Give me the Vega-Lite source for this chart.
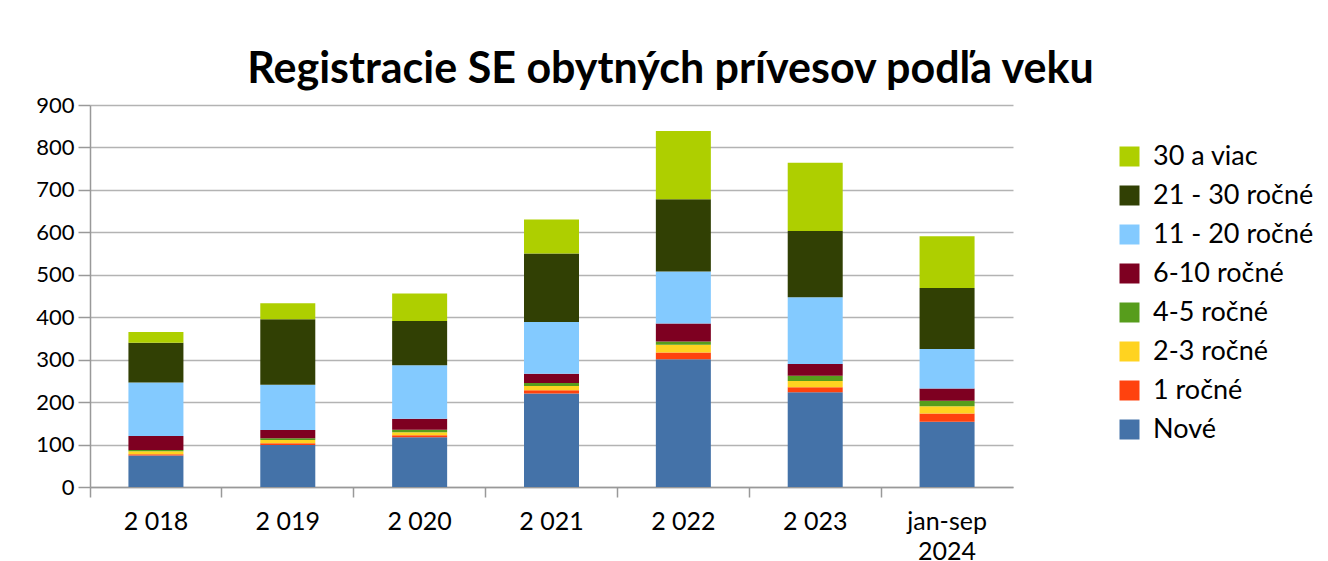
{
  "$schema": "https://vega.github.io/schema/vega-lite/v6.json",
  "autosize": {"type": "none"},
  "padding": {"left": 90, "top": 105, "right": 315, "bottom": 74},
  "width": 923,
  "height": 382,
  "background": "white",
  "title": {
    "text": "Registracie SE obytných prívesov podľa veku",
    "font": "Lato",
    "fontSize": 43,
    "fontWeight": "bold",
    "color": "#000000",
    "anchor": "middle",
    "frame": "group",
    "dx": 119,
    "offset": 2
  },
  "data": {
    "values": [
      {"rok": "2 018", "kat": "Nové", "o": 1, "v": 74},
      {"rok": "2 018", "kat": "1 ročné", "o": 2, "v": 3},
      {"rok": "2 018", "kat": "2-3 ročné", "o": 3, "v": 7},
      {"rok": "2 018", "kat": "4-5 ročné", "o": 4, "v": 3},
      {"rok": "2 018", "kat": "6-10 ročné", "o": 5, "v": 33},
      {"rok": "2 018", "kat": "11 - 20 ročné", "o": 6, "v": 126},
      {"rok": "2 018", "kat": "21 - 30 ročné", "o": 7, "v": 94},
      {"rok": "2 018", "kat": "30 a viac", "o": 8, "v": 25},

      {"rok": "2 019", "kat": "Nové", "o": 1, "v": 99},
      {"rok": "2 019", "kat": "1 ročné", "o": 2, "v": 4},
      {"rok": "2 019", "kat": "2-3 ročné", "o": 3, "v": 8},
      {"rok": "2 019", "kat": "4-5 ročné", "o": 4, "v": 4},
      {"rok": "2 019", "kat": "6-10 ročné", "o": 5, "v": 19},
      {"rok": "2 019", "kat": "11 - 20 ročné", "o": 6, "v": 107},
      {"rok": "2 019", "kat": "21 - 30 ročné", "o": 7, "v": 154},
      {"rok": "2 019", "kat": "30 a viac", "o": 8, "v": 38},

      {"rok": "2 020", "kat": "Nové", "o": 1, "v": 117},
      {"rok": "2 020", "kat": "1 ročné", "o": 2, "v": 5},
      {"rok": "2 020", "kat": "2-3 ročné", "o": 3, "v": 7},
      {"rok": "2 020", "kat": "4-5 ročné", "o": 4, "v": 6},
      {"rok": "2 020", "kat": "6-10 ročné", "o": 5, "v": 26},
      {"rok": "2 020", "kat": "11 - 20 ročné", "o": 6, "v": 126},
      {"rok": "2 020", "kat": "21 - 30 ročné", "o": 7, "v": 104},
      {"rok": "2 020", "kat": "30 a viac", "o": 8, "v": 65},

      {"rok": "2 021", "kat": "Nové", "o": 1, "v": 220},
      {"rok": "2 021", "kat": "1 ročné", "o": 2, "v": 8},
      {"rok": "2 021", "kat": "2-3 ročné", "o": 3, "v": 10},
      {"rok": "2 021", "kat": "4-5 ročné", "o": 4, "v": 7},
      {"rok": "2 021", "kat": "6-10 ročné", "o": 5, "v": 22},
      {"rok": "2 021", "kat": "11 - 20 ročné", "o": 6, "v": 122},
      {"rok": "2 021", "kat": "21 - 30 ročné", "o": 7, "v": 161},
      {"rok": "2 021", "kat": "30 a viac", "o": 8, "v": 80},

      {"rok": "2 022", "kat": "Nové", "o": 1, "v": 301},
      {"rok": "2 022", "kat": "1 ročné", "o": 2, "v": 16},
      {"rok": "2 022", "kat": "2-3 ročné", "o": 3, "v": 18},
      {"rok": "2 022", "kat": "4-5 ročné", "o": 4, "v": 8},
      {"rok": "2 022", "kat": "6-10 ročné", "o": 5, "v": 42},
      {"rok": "2 022", "kat": "11 - 20 ročné", "o": 6, "v": 123},
      {"rok": "2 022", "kat": "21 - 30 ročné", "o": 7, "v": 170},
      {"rok": "2 022", "kat": "30 a viac", "o": 8, "v": 161},

      {"rok": "2 023", "kat": "Nové", "o": 1, "v": 223},
      {"rok": "2 023", "kat": "1 ročné", "o": 2, "v": 12},
      {"rok": "2 023", "kat": "2-3 ročné", "o": 3, "v": 15},
      {"rok": "2 023", "kat": "4-5 ročné", "o": 4, "v": 12},
      {"rok": "2 023", "kat": "6-10 ročné", "o": 5, "v": 28},
      {"rok": "2 023", "kat": "11 - 20 ročné", "o": 6, "v": 157},
      {"rok": "2 023", "kat": "21 - 30 ročné", "o": 7, "v": 156},
      {"rok": "2 023", "kat": "30 a viac", "o": 8, "v": 161},

      {"rok": "jan-sep 2024", "kat": "Nové", "o": 1, "v": 154},
      {"rok": "jan-sep 2024", "kat": "1 ročné", "o": 2, "v": 19},
      {"rok": "jan-sep 2024", "kat": "2-3 ročné", "o": 3, "v": 17},
      {"rok": "jan-sep 2024", "kat": "4-5 ročné", "o": 4, "v": 13},
      {"rok": "jan-sep 2024", "kat": "6-10 ročné", "o": 5, "v": 29},
      {"rok": "jan-sep 2024", "kat": "11 - 20 ročné", "o": 6, "v": 93},
      {"rok": "jan-sep 2024", "kat": "21 - 30 ročné", "o": 7, "v": 144},
      {"rok": "jan-sep 2024", "kat": "30 a viac", "o": 8, "v": 122}
    ]
  },
  "mark": {"type": "bar", "width": 55},
  "encoding": {
    "x": {
      "field": "rok",
      "type": "nominal",
      "sort": null,
      "title": null,
      "scale": {"paddingInner": 0, "paddingOuter": 0},
      "axis": {
        "labelAngle": 0,
        "labelFont": "Lato",
        "labelFontSize": 25,
        "labelColor": "#000000",
        "labelPadding": 12,
        "labelLineHeight": 30,
        "labelExpr": "datum.value == 'jan-sep 2024' ? ['jan-sep', '2024'] : datum.value",
        "bandPosition": 0,
        "tickSize": 10,
        "tickColor": "#999999",
        "tickWidth": 1.5,
        "domainColor": "#999999",
        "domainWidth": 1.5,
        "grid": false
      }
    },
    "y": {
      "field": "v",
      "type": "quantitative",
      "stack": "zero",
      "title": null,
      "scale": {"domain": [0, 900], "nice": false},
      "axis": {
        "values": [0, 100, 200, 300, 400, 500, 600, 700, 800, 900],
        "labelFont": "Lato",
        "labelFontSize": 22,
        "labelColor": "#000000",
        "labelPadding": 4,
        "tickSize": 12,
        "tickColor": "#999999",
        "tickWidth": 1.5,
        "domainColor": "#999999",
        "domainWidth": 1.5,
        "grid": true,
        "gridColor": "#b3b3b3",
        "gridWidth": 1.5
      }
    },
    "color": {
      "field": "kat",
      "type": "nominal",
      "scale": {
        "domain": ["30 a viac", "21 - 30 ročné", "11 - 20 ročné", "6-10 ročné", "4-5 ročné", "2-3 ročné", "1 ročné", "Nové"],
        "range": ["#aecf00", "#314004", "#83caff", "#7e0021", "#579d1c", "#ffd320", "#ff420e", "#4472a8"]
      },
      "legend": {
        "title": null,
        "orient": "none",
        "legendX": 1026,
        "legendY": 38,
        "symbolType": "square",
        "symbolSize": 400,
        "symbolStrokeWidth": 0,
        "labelFont": "Lato",
        "labelFontSize": 27,
        "labelColor": "#000000",
        "labelOffset": 10,
        "labelLimit": 300,
        "rowPadding": 11
      }
    },
    "order": {"field": "o", "type": "quantitative"}
  },
  "config": {
    "view": {"stroke": null}
  }
}
